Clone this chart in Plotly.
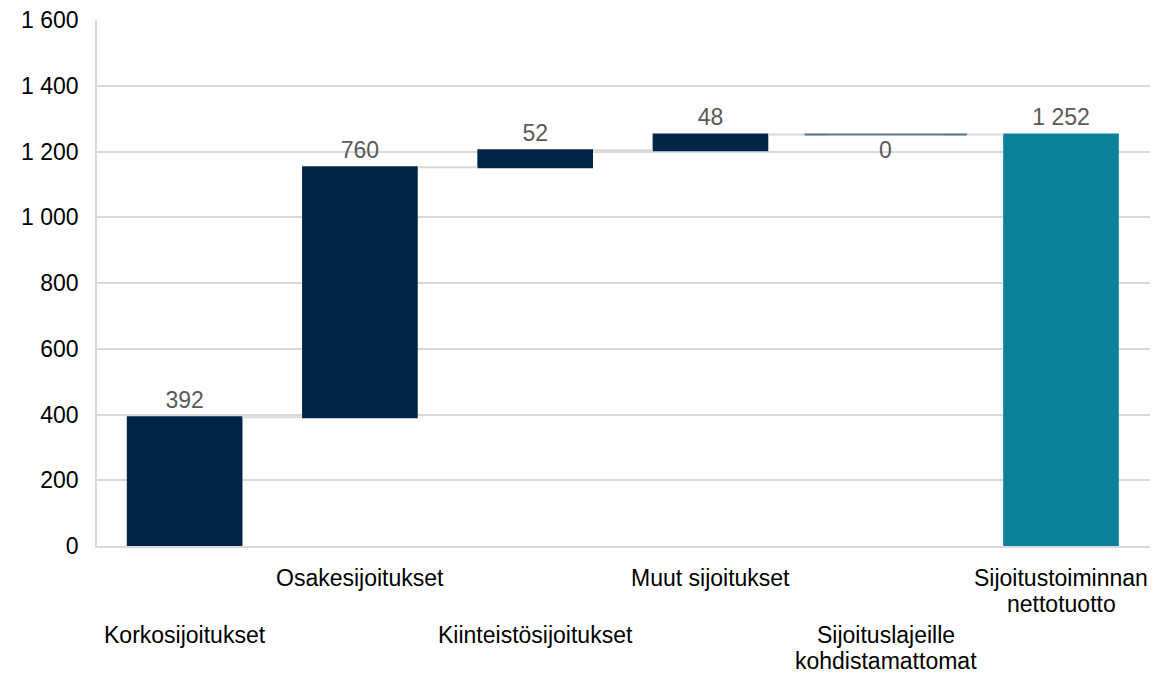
import plotly.graph_objects as go
import numpy as np

# Sijoitustoiminnan nettotuoton erittely
kategoriat = ["Korkosijoitukset", "Osakesijoitukset", "Kiinteistösijoitukset",
              "Muut sijoitukset", "Sijoituslajeille<br>kohdistamattomat",
              "Sijoitustoiminnan<br>nettotuotto"]
arvot = [392, 760, 52, 48, 0, 1252]
mittarit = ["relative", "relative", "relative", "relative", "relative", "total"]

y_ticks = [0, 200, 400, 600, 800, 1000, 1200, 1400, 1600]
y_ticktext = ["0", "200", "400", "600", "800", "1 000", "1 200", "1 400", "1 600"]

navy = "#002548"
teal = "#0a8199"
grid = "#d9d9d9"
fontti = "Liberation Sans, Arial"


def muotoile(v):
    return f"{v:,}".replace(",", " ")


# nollapalkin teksti piirretään erikseen viivan alle
tekstit = [muotoile(v) if v != 0 else "" for v in arvot]

fig = go.Figure()

fig.add_trace(go.Waterfall(
    x=kategoriat,
    y=arvot,
    measure=mittarit,
    text=tekstit,
    textinfo="text",
    textposition="outside",
    textfont=dict(size=23, color="#595959", family=fontti),
    increasing=dict(marker=dict(color=navy)),
    decreasing=dict(marker=dict(color=navy)),
    totals=dict(marker=dict(color=teal)),
    connector=dict(line=dict(color=grid, width=2)),
    width=0.66,
    cliponaxis=False,
))

# nollan suuruinen muutos: ohut viiva ja arvo viivan alle
kertyma = np.cumsum(arvot[:-1])
nolla_i = [i for i, v in enumerate(arvot[:-1]) if v == 0]
fig.add_trace(go.Scatter(
    x=[kategoriat[i] for i in nolla_i],
    y=[kertyma[i] for i in nolla_i],
    mode="markers",
    marker=dict(symbol="line-ew", size=116, line=dict(color="#5a7590", width=2)),
    cliponaxis=False,
    hoverinfo="skip",
))
for i in nolla_i:
    fig.add_annotation(x=kategoriat[i], y=kertyma[i], text=muotoile(arvot[i]),
                       showarrow=False, yanchor="top", yshift=-1,
                       font=dict(size=23, color="#595959", family=fontti))

# porrastetut kategorianimet, rivi kerrallaan
for i, nimi in enumerate(kategoriat):
    alku = -32 if i % 2 == 1 else -89
    for j, rivi in enumerate(nimi.split("<br>")):
        fig.add_annotation(x=nimi, y=0, xref="x", yref="paper", text=rivi,
                           showarrow=False, yanchor="middle",
                           yshift=alku - 26 * j,
                           font=dict(size=23, color="#000000", family=fontti))

# sivun body-marginaali (8 px) on huomioitu koossa ja marginaaleissa
fig.update_layout(
    width=1168,
    height=665,
    margin=dict(l=89, r=26, t=12, b=127),
    paper_bgcolor="white",
    plot_bgcolor="white",
    showlegend=False,
    font=dict(family=fontti, size=23, color="#000000"),
    xaxis=dict(showticklabels=False, showline=True, linecolor=grid, linewidth=2,
               ticks="", automargin=False),
    yaxis=dict(range=[0, 1600], tickvals=y_ticks, ticktext=y_ticktext,
               showgrid=True, gridcolor=grid, gridwidth=1.5,
               showline=True, linecolor=grid, linewidth=1.5,
               zeroline=False, tickfont=dict(size=23), ticks="",
               ticklabelstandoff=12, ticklabeloverflow="allow",
               automargin=False),
)

fig.write_html("out.html")
